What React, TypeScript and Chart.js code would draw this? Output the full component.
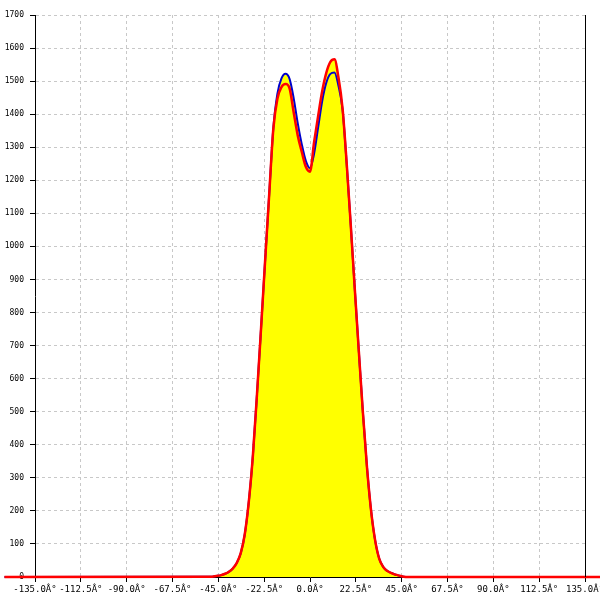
import React, { useEffect, useRef } from "react";
import { Chart, registerables } from "chart.js";

Chart.register(...registerables);

const angles = [
  -150, -48, -46, -44, -42, -40, -38, -36, -34, -32, -30, -28, -26, -24, -22, -20, -18,
  -16, -14, -12, -10, -8, -6, -4, -2, 0, 2, 4, 6, 8, 10, 12, 14, 16, 18, 20, 22, 24, 26,
  28, 30, 32, 34, 36, 38, 40, 42, 44, 46, 48, 150,
];

const blueValues = [
  0, 1, 3, 5, 9, 15, 25, 42, 72, 130, 230, 370, 555, 755, 960, 1160, 1358,
  1462, 1508, 1522, 1506, 1448, 1372, 1308, 1258, 1237, 1280, 1360, 1440, 1495, 1522, 1526, 1485, 1413, 1250, 1065, 870, 680, 495,
  330, 200, 110, 55, 30, 18, 12, 7, 4, 1, 0, 0,
];

const redValues = [
  0, 1, 3, 5, 9, 15, 25, 42, 72, 130, 230, 370, 555, 755, 960, 1160, 1356,
  1447, 1482, 1491, 1477, 1405, 1335, 1285, 1240, 1226, 1315, 1395, 1470, 1525, 1558, 1566, 1510, 1416, 1252, 1065, 870, 680, 495,
  330, 200, 110, 55, 30, 18, 12, 7, 4, 1, 0, 0,
];

const xTickLabels = [
  "-135.0Â°", "-112.5Â°", "-90.0Â°", "-67.5Â°", "-45.0Â°", "-22.5Â°", "0.0Â°",
  "22.5Â°", "45.0Â°", "67.5Â°", "90.0Â°", "112.5Â°", "135.0Â°",
];

const rightBorder = {
  id: "rightBorder",
  afterDraw(chart: any) {
    const { ctx, chartArea } = chart;
    ctx.save();
    ctx.strokeStyle = "#000000";
    ctx.lineWidth = 1;
    ctx.beginPath();
    ctx.moveTo(Math.round(chartArea.right) + 0.5, chartArea.top);
    ctx.lineTo(Math.round(chartArea.right) + 0.5, chartArea.bottom);
    ctx.stroke();
    ctx.restore();
  },
};

export default function App() {
  const ref = useRef<HTMLCanvasElement | null>(null);

  useEffect(() => {
    if (!ref.current) return;
    const mk = (vals: number[]) => angles.map((a, i) => ({ x: a, y: vals[i] }));
    const chart = new Chart(ref.current, {
      type: "line",
      data: {
        datasets: [
          {
            data: mk(redValues),
            borderColor: "#ff0000",
            borderWidth: 2.5,
            backgroundColor: "#ffff00",
            fill: "origin",
            pointRadius: 0,
            cubicInterpolationMode: "monotone",
            clip: false,
          } as any,
          {
            data: mk(blueValues),
            borderColor: "#0000cc",
            borderWidth: 2,
            backgroundColor: "#ffff00",
            fill: "origin",
            pointRadius: 0,
            cubicInterpolationMode: "monotone",
            clip: false,
          } as any,
        ],
      },
      options: {
        animation: false,
        responsive: false,
        layout: { autoPadding: false, padding: { top: 15, right: 15, left: 0, bottom: 0 } },
        plugins: {
          legend: { display: false },
          tooltip: { enabled: false },
          filler: { drawTime: "beforeDatasetsDraw" },
        } as any,
        scales: {
          x: {
            type: "linear",
            min: -135,
            max: 135,
            afterBuildTicks: (scale: any) => {
              scale.ticks = xTickLabels.map((_, i) => ({ value: -135 + i * 22.5 }));
            },
            afterFit: (scale: any) => {
              scale.height = 23;
              scale.paddingLeft = 0;
              scale.paddingRight = 0;
            },
            ticks: {
              autoSkip: false,
              maxRotation: 0,
              minRotation: 0,
              padding: 2,
              color: "#000000",
              font: { family: "DejaVu Sans Mono", size: 9 },
              callback: (_v: any, i: number) => xTickLabels[i],
            },
            grid: {
              color: "#c8c8c8",
              tickColor: "#000000",
              tickLength: 5,
              lineWidth: 1,
            },
            border: { color: "#000000", width: 1, dash: [3, 3] },
          },
          y: {
            type: "linear",
            min: 0,
            max: 1700,
            afterFit: (scale: any) => {
              scale.width = 35;
              scale.paddingTop = 0;
              scale.paddingBottom = 0;
            },
            ticks: {
              stepSize: 100,
              padding: 6,
              color: "#000000",
              font: { family: "DejaVu Sans Mono", size: 8 },
              callback: (v: any) => String(v),
            },
            grid: {
              color: "#c8c8c8",
              tickColor: "#000000",
              tickLength: 5,
              lineWidth: 1,
            },
            border: { color: "#000000", width: 1, dash: [3, 3] },
          },
        },
      } as any,
      plugins: [rightBorder],
    });
    return () => chart.destroy();
  }, []);

  return (
    <div style={{ position: "absolute", left: 0, top: 0, width: 600, height: 600, background: "#ffffff" }}>
      <canvas ref={ref} width={600} height={600} />
    </div>
  );
}
